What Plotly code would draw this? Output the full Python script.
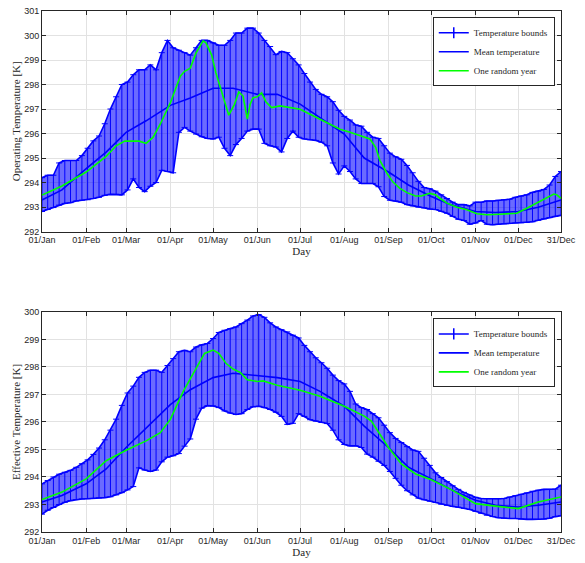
import plotly.graph_objects as go

# ---------------- data ----------------
MONTH_TICK_DAYS = [1, 32, 60, 91, 121, 152, 182, 213, 244, 274, 305, 335, 365]
MONTH_TICK_TEXT = ["01/Jan", "01/Feb", "01/Mar", "01/Apr", "01/May", "01/Jun", "01/Jul",
                   "01/Aug", "01/Sep", "01/Oct", "01/Nov", "01/Dec", "31/Dec"]

# days at which the bounds were read (every 4 days + last day)
BOUND_DAYS = list(range(1, 362, 4)) + [365]

OP_UPPER = [294.2, 294.3, 294.3, 294.8, 294.9, 294.9, 294.9, 295.1, 295.4, 295.7,
            295.9, 296.4, 297.0, 297.5, 298.0, 298.1, 298.4, 298.6, 298.6, 298.8,
            298.6, 299.3, 299.8, 299.5, 299.4, 299.3, 299.2, 299.5, 299.8, 299.8,
            299.7, 299.6, 299.6, 299.8, 300.1, 300.1, 300.3, 300.3, 300.1, 299.8,
            299.55, 299.22, 299.35, 299.3, 299.05, 298.8, 298.45, 298.1, 297.8, 297.6,
            297.5, 297.3, 296.95, 296.7, 296.55, 296.35, 296.3, 296.05, 295.85, 295.8,
            295.5, 295.2, 295.05, 294.95, 294.7, 294.4, 294.05, 293.8, 293.75, 293.65,
            293.5, 293.35, 293.2, 293.1, 293.1, 293.05, 293.2, 293.2, 293.25, 293.25,
            293.28, 293.3, 293.32, 293.4, 293.45, 293.5, 293.6, 293.65, 293.72, 293.9,
            294.25, 294.45]
OP_LOWER = [292.82, 292.9, 292.98, 293.08, 293.15, 293.18, 293.25, 293.28, 293.3, 293.35,
            293.4, 293.48, 293.52, 293.52, 293.5, 293.7, 294.15, 293.8, 293.63, 293.85,
            294.0, 294.5, 294.45, 294.4, 296.05, 296.25, 296.1, 295.98, 295.87, 295.8,
            295.78, 295.85, 295.4, 295.1, 295.55, 295.8, 296.1, 296.18, 296.18, 295.6,
            295.5, 295.45, 295.25, 295.8, 296.1, 295.85, 295.78, 295.75, 295.72, 295.65,
            295.5, 294.8, 294.35, 294.68, 294.45, 294.15, 293.96, 293.96, 293.96, 293.83,
            293.43, 293.28, 293.25, 293.2, 293.1, 293.05, 293.0, 292.97, 292.92, 292.9,
            292.83, 292.75, 292.62, 292.5, 292.45, 292.3, 292.35, 292.45, 292.3, 292.28,
            292.3, 292.32, 292.33, 292.35, 292.36, 292.37, 292.4, 292.46, 292.52, 292.57,
            292.62, 292.66]

EF_UPPER = [293.75, 293.87, 294.0, 294.1, 294.17, 294.24, 294.35, 294.48, 294.62, 294.82,
            295.05, 295.35, 295.7, 296.1, 296.6, 297.05, 297.3, 297.62, 297.8, 297.88,
            297.88, 297.8, 298.05, 298.3, 298.55, 298.6, 298.55, 298.72, 298.8, 298.85,
            299.03, 299.25, 299.33, 299.39, 299.45, 299.57, 299.7, 299.85, 299.9, 299.8,
            299.6, 299.45, 299.35, 299.27, 299.15, 299.05, 298.78, 298.55, 298.33, 298.15,
            297.95, 297.7, 297.5, 297.38, 297.11, 296.65, 296.52, 296.45, 296.3, 296.15,
            295.88, 295.61, 295.4, 295.25, 295.1, 294.98, 294.93, 294.68, 294.42, 294.15,
            293.98, 293.83, 293.68, 293.55, 293.44, 293.34, 293.26, 293.22, 293.21, 293.21,
            293.21, 293.22, 293.27, 293.32, 293.37, 293.42, 293.48, 293.52, 293.55, 293.55,
            293.56, 293.7]
EF_LOWER = [292.65, 292.79, 292.89, 293.0, 293.08, 293.14, 293.18, 293.2, 293.21, 293.22,
            293.24, 293.25, 293.28, 293.35, 293.43, 293.53, 293.65, 294.33, 294.25, 294.2,
            294.25, 294.55, 294.72, 294.77, 294.85, 295.12, 295.38, 296.1, 296.5, 296.59,
            296.58, 296.52, 296.4, 296.32, 296.27, 296.3, 296.45, 296.55, 296.57, 296.52,
            296.45, 296.35, 296.2, 295.91, 295.95, 296.3, 296.2, 296.08, 296.03, 295.98,
            295.94, 295.7, 295.35, 295.18, 295.13, 295.13, 295.07, 294.83, 294.72, 294.57,
            294.42, 294.2, 293.95, 293.7, 293.5, 293.35, 293.23, 293.17, 293.12, 293.07,
            293.01, 292.97, 292.93, 292.9, 292.86, 292.82, 292.75, 292.68, 292.61, 292.56,
            292.52, 292.5, 292.49, 292.49, 292.47, 292.46, 292.46, 292.46, 292.47, 292.5,
            292.56, 292.59]

MEAN_DAYS = [1, 15, 32, 46, 60, 74, 91, 105, 121, 135, 152, 166, 182, 196, 213, 227,
             244, 258, 274, 288, 305, 319, 335, 349, 365]
OP_MEAN = [293.29, 293.7, 294.57, 295.24, 296.05, 296.52, 297.15, 297.45, 297.85, 297.85,
           297.6, 297.6, 297.2, 296.65, 295.98, 295.0, 294.43, 293.9, 293.43, 293.09,
           292.82, 292.78, 292.82, 292.99, 293.29]
EF_MEAN = [293.09, 293.33, 293.75, 294.29, 295.07, 295.79, 296.63, 297.17, 297.61, 297.77,
           297.67, 297.61, 297.47, 297.11, 296.57, 295.85, 295.07, 294.35, 293.93, 293.54,
           293.15, 292.97, 292.91, 292.97, 293.09]

OP_YEAR_DAYS = [1, 15, 32, 46, 53, 59, 69, 74, 79, 84, 91, 95, 98, 101, 105, 109, 114, 116,
                120, 123, 128, 132, 136, 139, 142, 145, 147, 149, 152, 155, 158, 162, 168,
                175, 182, 189, 196, 203, 210, 217, 224, 231, 235, 238, 243, 247, 252, 257,
                263, 267, 273, 277, 280, 285, 292, 299, 306, 313, 322, 334, 341, 348, 355,
                360, 362, 365]
OP_YEAR = [293.49, 293.86, 294.43, 295.07, 295.5, 295.69, 295.69, 295.6, 295.85, 296.39,
           297.25, 297.87, 298.34, 298.54, 298.67, 299.28, 299.78, 299.7, 299.2, 298.47,
           297.46, 296.75, 297.19, 297.7, 297.53, 296.59, 297.2, 297.46, 297.5, 297.66,
           297.3, 297.06, 297.13, 297.06, 296.99, 296.79, 296.59, 296.39, 296.18, 296.05,
           295.91, 295.78, 295.44, 294.9, 294.37, 294.03, 293.76, 293.59, 293.45, 293.45,
           293.56, 293.5, 293.36, 293.16, 292.99, 292.89, 292.73, 292.69, 292.71, 292.75,
           292.95, 293.16, 293.36, 293.53, 293.5, 293.36]

EF_YEAR_DAYS = [1, 15, 32, 46, 60, 74, 84, 91, 100, 110, 115, 121, 125, 130, 135, 140, 145,
                152, 156, 166, 176, 182, 196, 213, 227, 232, 244, 253, 263, 274, 288, 305,
                319, 335, 349, 365]
EF_YEAR = [293.18, 293.45, 293.93, 294.59, 294.97, 295.31, 295.61, 296.09, 297.1, 298.0,
           298.49, 298.61, 298.49, 298.13, 297.92, 297.8, 297.53, 297.47, 297.49, 297.33,
           297.21, 297.15, 296.93, 296.57, 296.21, 296.03, 295.07, 294.47, 294.11, 293.9,
           293.54, 293.03, 292.94, 292.85, 293.09, 293.27]

YLABELS = ["Operating Temperature [K]", "Effective Temperature [K]"]
YRANGES = [[292, 301], [292, 300]]
LEGEND_NAMES = ["Temperature bounds", "Mean temperature", "One random year"]

# ---------------- figure ----------------
BLUE = "rgb(0,0,255)"
GREEN = "rgb(0,255,0)"
AXC = "#262626"
GRID = "#e2e2e2"
SERIF = "Liberation Serif"
SANS = "Liberation Sans"

fig = go.Figure()

panels = [
    (OP_UPPER, OP_LOWER, OP_MEAN, OP_YEAR_DAYS, OP_YEAR, "x", "y", "legend"),
    (EF_UPPER, EF_LOWER, EF_MEAN, EF_YEAR_DAYS, EF_YEAR, "x2", "y2", "legend2"),
]

for up, lo, mean, ydays, year, xa, ya, leg in panels:
    # band between the bars
    fig.add_trace(go.Scatter(x=BOUND_DAYS, y=lo, mode="lines", line=dict(color=BLUE, width=1.6),
                             xaxis=xa, yaxis=ya, showlegend=False, hoverinfo="skip"))
    fig.add_trace(go.Scatter(x=BOUND_DAYS, y=up, mode="lines", line=dict(color=BLUE, width=1.6),
                             fill="tonexty", fillcolor="rgba(0,0,255,0.58)",
                             xaxis=xa, yaxis=ya, showlegend=False, hoverinfo="skip"))
    # error bars
    fig.add_trace(go.Scatter(
        x=BOUND_DAYS, y=lo, mode="markers", marker=dict(size=0.1, color=BLUE),
        error_y=dict(type="data", symmetric=False,
                     array=[u - l for u, l in zip(up, lo)],
                     arrayminus=[0] * len(lo),
                     color=BLUE, thickness=1, width=3),
        xaxis=xa, yaxis=ya, showlegend=False, hoverinfo="skip"))
    # legend stub for the error bars
    fig.add_trace(go.Scatter(x=[None], y=[None], mode="lines+markers",
                             line=dict(color=BLUE, width=1.5),
                             marker=dict(symbol="line-ns-open", size=8, color=BLUE,
                                         line=dict(color=BLUE, width=1.5)),
                             name=LEGEND_NAMES[0], xaxis=xa, yaxis=ya, legend=leg))
    fig.add_trace(go.Scatter(x=MEAN_DAYS, y=mean, mode="lines", line=dict(color=BLUE, width=1.6),
                             name=LEGEND_NAMES[1], xaxis=xa, yaxis=ya, legend=leg))
    fig.add_trace(go.Scatter(x=ydays, y=year, mode="lines", line=dict(color=GREEN, width=1.6),
                             name=LEGEND_NAMES[2], xaxis=xa, yaxis=ya, legend=leg))

TOPDOM = [0.5766, 1.0]
BOTDOM = [0.0, 0.4226]

xcommon = dict(range=[1, 365], tickvals=MONTH_TICK_DAYS, ticktext=MONTH_TICK_TEXT,
               ticks="inside", ticklen=4, tickcolor=AXC, showline=True, linecolor=AXC,
               linewidth=1, mirror="ticks", showgrid=True, gridcolor=GRID, zeroline=False,
               tickfont=dict(family=SANS, size=9, color=AXC),
               title=dict(text="Day", font=dict(family=SERIF, size=11, color=AXC), standoff=1))
ycommon = dict(ticks="inside", ticklen=4, tickcolor=AXC, showline=True, linecolor=AXC,
               linewidth=1, mirror="ticks", showgrid=True, gridcolor=GRID, zeroline=False,
               dtick=1, tickfont=dict(family=SANS, size=9, color=AXC))

legcommon = dict(xanchor="right", yanchor="top", bgcolor="white", bordercolor=AXC,
                 borderwidth=1, font=dict(family=SERIF, size=9, color=AXC),
                 tracegroupgap=0, itemwidth=30, traceorder="normal")

fig.update_layout(
    width=585, height=563,
    margin=dict(l=42, r=24, t=6, b=31),
    plot_bgcolor="white", paper_bgcolor="white",
    xaxis=dict(domain=[0, 1], anchor="y", **xcommon),
    yaxis=dict(domain=TOPDOM, anchor="x", range=YRANGES[0],
               title=dict(text=YLABELS[0], font=dict(family=SERIF, size=11, color=AXC), standoff=1),
               **ycommon),
    xaxis2=dict(domain=[0, 1], anchor="y2", **xcommon),
    yaxis2=dict(domain=BOTDOM, anchor="x2", range=YRANGES[1],
                title=dict(text=YLABELS[1], font=dict(family=SERIF, size=11, color=AXC), standoff=1),
                **ycommon),
    legend=dict(x=0.988, y=0.988, **legcommon),
    legend2=dict(x=0.988, y=0.41, **legcommon),
)

fig.write_html("out.html", config={"displayModeBar": False},
               post_script="document.body.style.margin='0';")
